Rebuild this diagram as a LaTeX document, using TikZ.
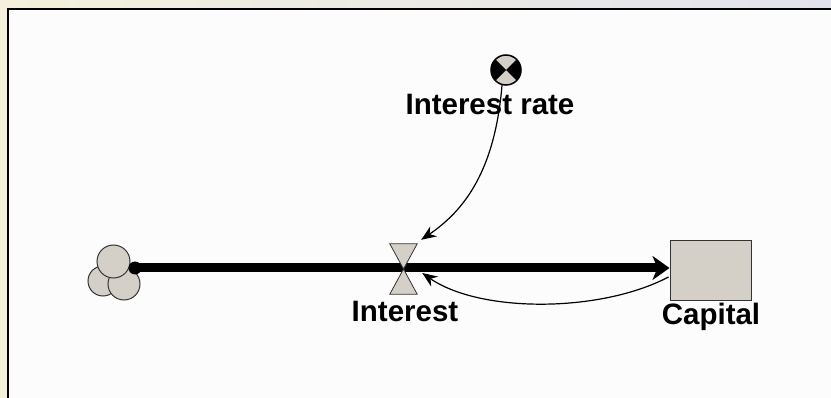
\documentclass[tikz,border=0pt]{standalone}
\usepackage{fontspec}
\setmainfont{Liberation Sans}
\usetikzlibrary{arrows.meta,calc}
\definecolor{vgrey}{HTML}{D4D0C8}
\definecolor{bgleft}{HTML}{F3F1DC}
\definecolor{bgright}{HTML}{E2E2EE}
\tikzset{
  lbl/.style={font=\fontsize{29.5}{34}\selectfont\bfseries, inner sep=0pt, anchor=base},
  part/.style={fill=vgrey, draw=black!80, line width=1pt},
  link/.style={line width=1.2pt, -{Stealth[length=15pt,width=12pt]}},
}
\begin{document}
\begin{tikzpicture}[x=1pt,y=-1pt]
\useasboundingbox (0,0) rectangle (831,398);
\shade[left color=bgleft, right color=bgright] (0,0) rectangle (831,398);
\fill[white!99!black] (8,9) rectangle (831,398);
\draw[line width=2pt] (8,398) -- (8,9) -- (831,9);

% source cloud
\draw[part] (103,281) circle (15);
\draw[part] (124,284) circle (16);
\draw[part] (113.5,261.5) circle (16.5);
\coordinate (src) at (135,268);

% stock
\node[part, minimum width=81pt, minimum height=60pt, inner sep=0pt] (cap) at (710.5,271) {};
\node[lbl] (caplbl) at (711,325) {Capital};

% flow pipe
\draw[line width=9pt, -{Stealth[length=17pt,width=24pt,inset=5pt]}] (src) -- (src -| cap.west);
\fill[black] (src) circle (6.5);

% valve
\node[minimum width=27pt, minimum height=50pt, inner sep=0pt] (valve) at (403.5,269) {};
\draw[part, line width=0.8pt] (valve.north west) -- (valve.north east) -- (valve.center)
   -- (valve.south east) -- (valve.south west) -- (valve.center) -- cycle;
\node[lbl] (vlbl) at (405,322) {Interest};

% converter
\node[circle, minimum size=30pt, inner sep=0pt, fill=vgrey] (ir) at (506,70) {};
\fill[black] (ir.center) -- (ir.135) -- (ir.160) -- (ir.180) -- (ir.200) -- (ir.225) -- cycle;
\fill[black] (ir.center) -- (ir.45) -- (ir.20) -- (ir.0) -- (ir.-20) -- (ir.-45) -- cycle;
\draw[black, line width=1.5pt] (ir) circle (15);
\node[lbl] (irlbl) at (490,115) {Interest rate};

% connectors
\draw[link] (ir.255) .. controls (495,170) and (465,210) .. ($(valve.north east)+(4,-4)$);
\draw[link] ($(cap.west)+(-1,6)$) .. controls (600,313) and (480,313) .. ($(valve.east)+(5,4)$);
\end{tikzpicture}
\end{document}
